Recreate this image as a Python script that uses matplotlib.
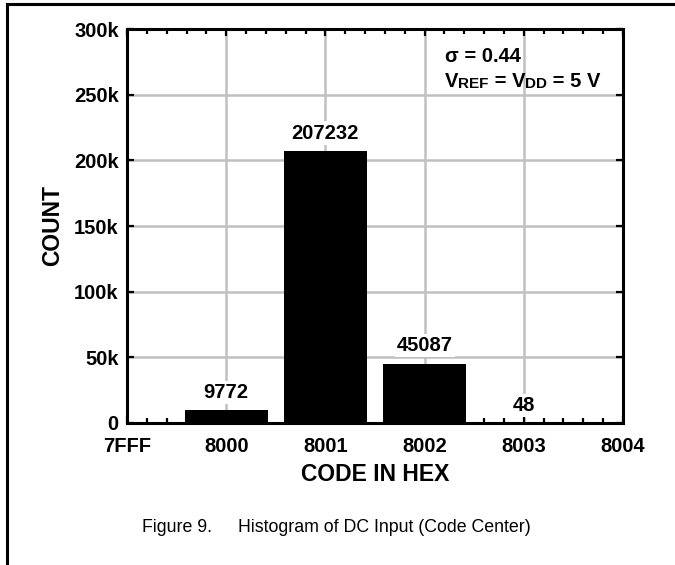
import numpy as np
import matplotlib
matplotlib.use("Agg")
import matplotlib.pyplot as plt
from matplotlib import font_manager
from matplotlib.lines import Line2D
from matplotlib.ticker import MultipleLocator

# data
codes = ["7FFF", "8000", "8001", "8002", "8003", "8004"]
bar_codes = ["8000", "8001", "8002", "8003"]
counts = [9772, 207232, 45087, 48]
y_ticks = [0, 50000, 100000, 150000, 200000, 250000, 300000]
y_labels = ["0", "50k", "100k", "150k", "200k", "250k", "300k"]

names = {f.name for f in font_manager.fontManager.ttflist}
narrow = "Liberation Sans Narrow" if "Liberation Sans Narrow" in names else "Liberation Sans"
plt.rcParams["font.family"] = ["Liberation Sans", "DejaVu Sans"]

fig = plt.figure(figsize=(6.75, 5.65), dpi=100)
ax = fig.add_axes([127 / 675, 1 - 423 / 565, 496 / 675, 394 / 565])

x_pos = [codes.index(c) for c in bar_codes]
ax.bar(x_pos, counts, width=0.84, color="black", zorder=3)

ax.set_xlim(0, 5)
ax.set_ylim(0, 300000)
ax.set_xticks(range(len(codes)))
ax.set_xticklabels(codes)
ax.set_yticks(y_ticks)
ax.set_yticklabels(y_labels)
ax.xaxis.set_minor_locator(MultipleLocator(0.2))

ax.grid(True, which="major", color="#c0c0c0", linewidth=1.8, zorder=1)
ax.set_axisbelow(True)

for s in ax.spines.values():
    s.set_linewidth(2.2)
ax.tick_params(which="both", direction="in", top=True, right=True, width=1.6)
ax.tick_params(which="major", length=5)
ax.tick_params(which="minor", length=3.5)
ax.tick_params(axis="x", pad=10, labelsize=14.5)
ax.tick_params(axis="y", pad=6, labelsize=14.5)
for lab in ax.get_xticklabels() + ax.get_yticklabels():
    lab.set_fontweight("bold")

ax.set_xlabel("CODE IN HEX", fontsize=16.5, fontweight="bold", labelpad=5)
ax.set_ylabel("COUNT", fontsize=16.5, fontweight="bold", labelpad=7)

# value labels with white box over grid
for x, c in zip(x_pos, counts):
    ax.annotate(f"{c}", (x, c), xytext=(0, 6), textcoords="offset points",
                ha="center", va="bottom", fontsize=14.5, fontweight="bold",
                bbox=dict(facecolor="white", edgecolor="none", pad=1.5), zorder=4)

# annotation: sigma and Vref = Vdd
ax.text(0.641, 0.931, "σ = 0.44", transform=ax.transAxes, fontsize=14.5,
        fontweight="bold", va="center", ha="left", zorder=5)
parts = [("V", 14.5), ("REF", 11), (" = V", 14.5), ("DD", 11), (" = 5 V", 14.5)]
t = ax.text(0.641, 0.843, parts[0][0], transform=ax.transAxes, fontsize=parts[0][1],
            fontweight="bold", va="bottom", ha="left", zorder=5)
for txt, sz in parts[1:]:
    t = ax.annotate(txt, xy=(1, 0), xycoords=t, va="bottom", ha="left",
                    fontsize=sz, fontweight="bold", zorder=5)

# caption
fig.text(212 / 675, 1 - 528 / 565, "Figure 9.", fontsize=12.8, family=narrow,
         ha="right", va="center")
fig.text(238 / 675, 1 - 528 / 565, "Histogram of DC Input (Code Center)", fontsize=12.8,
         family=narrow, ha="left", va="center")

# page frame lines
fig.add_artist(Line2D([7 / 675, 1], [1 - 4 / 565, 1 - 4 / 565], color="black", linewidth=2.2))
fig.add_artist(Line2D([7 / 675, 7 / 675], [0, 1 - 4 / 565], color="black", linewidth=2.2))

fig.savefig("out.png", dpi=100)
